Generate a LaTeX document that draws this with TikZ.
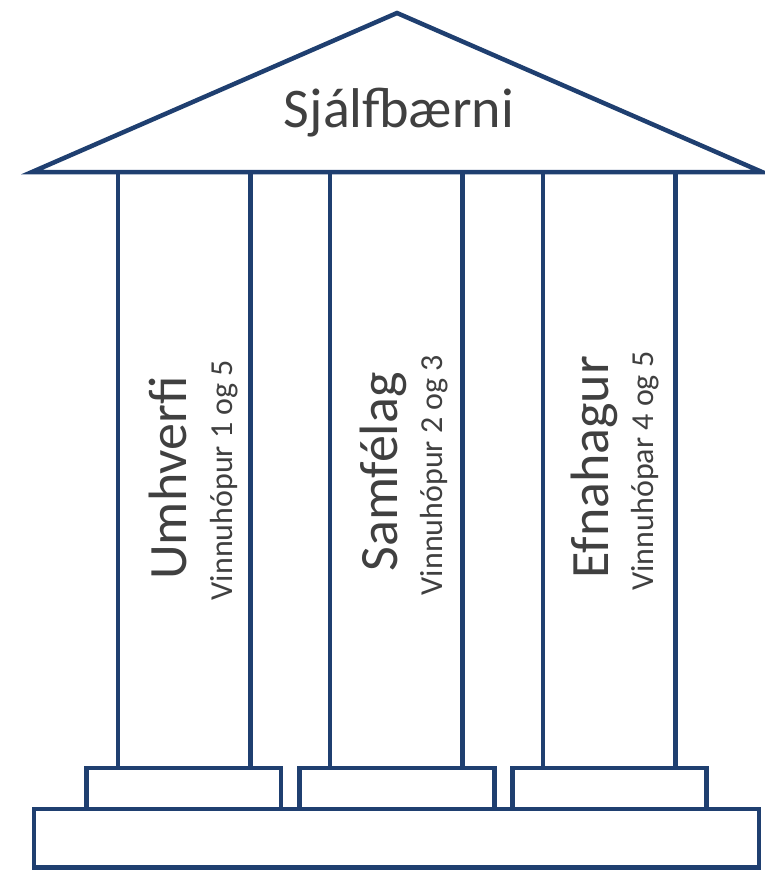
\documentclass[tikz,border=0pt]{standalone}
\usepackage{fontspec}
\setmainfont{Carlito}
\definecolor{lineblue}{HTML}{1F3F70}
\definecolor{textgrey}{HTML}{404040}
\begin{document}
\begin{tikzpicture}[x=1pt,y=-1pt,
  outline/.style={draw=lineblue,line width=4.5pt,line join=miter,miter limit=10},
  bigtext/.style={text=textgrey,font=\fontsize{54}{60}\selectfont,inner sep=0pt,anchor=base},
  smalltext/.style={text=textgrey,font=\fontsize{32}{36}\selectfont,inner sep=0pt,anchor=base},
  vert/.style={rotate=90}]
\useasboundingbox (0,0) rectangle (764,870);
% base
\draw[outline] (34,809) rectangle (759,867.5);
% plinths
\draw[outline] (86.5,768) rectangle (281,809);
\draw[outline] (299.5,768) rectangle (494.5,809);
\draw[outline] (512.5,768) rectangle (706.5,809);
% columns
\draw[outline] (118,172) rectangle (250.5,768);
\draw[outline] (330,172) rectangle (462.5,768);
\draw[outline] (543,172) rectangle (675.5,768);
% roof
\draw[outline,fill=white] (397,13) -- (762,172) -- (32,172) -- cycle;
% texts
\node[bigtext,font=\fontsize{56}{62}\selectfont] (roof) at (399,127) {Sjálfbærni};
\node[bigtext,vert] (t1) at (186,478) {Umhverfi};
\node[smalltext,vert] (s1) at (232,480) {Vinnuhópur 1 og 5};
\node[bigtext,vert] (t2) at (397,472) {Samfélag};
\node[smalltext,vert] (s2) at (442,475) {Vinnuhópur 2 og 3};
\node[bigtext,vert] (t3) at (608,467) {Efnahagur};
\node[smalltext,vert] (s3) at (653,471) {Vinnuhópar 4 og 5};
\end{tikzpicture}
\end{document}
